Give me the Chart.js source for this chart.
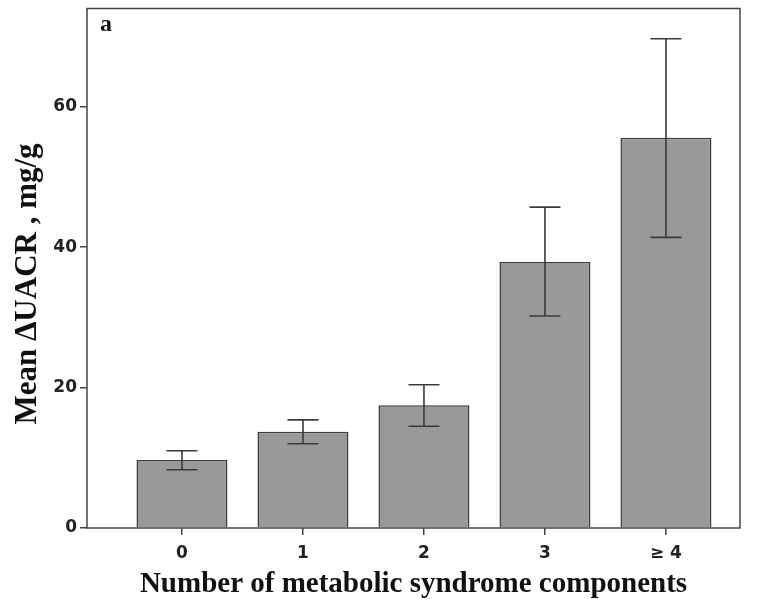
<!DOCTYPE html>
<html>
<head>
<meta charset="utf-8">
<script src="https://cdn.jsdelivr.net/npm/chart.js@4"></script>
<style>
html,body{margin:0;padding:0;background:#fff;}
#wrap{width:765px;height:608px;position:relative;}
</style>
</head>
<body>
<div id="wrap"><canvas id="c" width="765" height="608"></canvas></div>
<script>
const categories = ["0", "1", "2", "3", "\u2265 4"];
const meanValues = [9.7, 13.7, 17.5, 37.9, 55.6];
const errLow = [8.3, 12.0, 14.5, 30.2, 41.4];
const errHigh = [11.0, 15.4, 20.4, 45.7, 69.7];
const yTicks = [0, 20, 40, 60];
const yTitle = 'Mean \u0394UACR , mg/g';

const errorBarPlugin = {
  id: 'errorBars',
  afterDatasetsDraw(chart) {
    const ctx = chart.ctx, xs = chart.scales.x, ys = chart.scales.y;
    ctx.save();
    ctx.strokeStyle = '#3a3a3a';
    ctx.lineWidth = 1.6;
    const half = 15.5;
    for (let i = 0; i < categories.length; i++) {
      const px = xs.getPixelForValue(i);
      const lo = ys.getPixelForValue(errLow[i]);
      const hi = ys.getPixelForValue(errHigh[i]);
      ctx.beginPath();
      ctx.moveTo(px, lo); ctx.lineTo(px, hi);
      ctx.moveTo(px - half, lo); ctx.lineTo(px + half, lo);
      ctx.moveTo(px - half, hi); ctx.lineTo(px + half, hi);
      ctx.stroke();
    }
    ctx.restore();
  }
};

const framePlugin = {
  id: 'frame',
  afterDraw(chart) {
    const ctx = chart.ctx, a = chart.chartArea;
    ctx.save();
    ctx.strokeStyle = '#444';
    ctx.lineWidth = 1.5;
    ctx.strokeRect(a.left, a.top, a.right - a.left, a.bottom - a.top);
    ctx.fillStyle = '#111';
    ctx.font = 'bold 24px "Liberation Serif"';
    ctx.textBaseline = 'alphabetic';
    ctx.fillText('a', a.left + 13, a.top + 22);
    // y axis title
    ctx.translate(28, 284);
    ctx.rotate(-Math.PI / 2);
    ctx.textAlign = 'center';
    ctx.textBaseline = 'middle';
    ctx.font = 'bold 31px "Liberation Serif"';
    ctx.fillText(yTitle, 0, 0);
    ctx.restore();
  }
};

new Chart(document.getElementById('c'), {
  type: 'bar',
  data: {
    datasets: [{
      data: meanValues.map((v, i) => ({x: i, y: v})),
      backgroundColor: '#999999',
      borderColor: '#3c3c3c',
      borderWidth: 1.5,
      barPercentage: 0.752,
      categoryPercentage: 1
    }]
  },
  options: {
    responsive: false,
    animation: false,
    layout: {padding: {left: 0, top: 8.5, right: 25, bottom: 0}},
    plugins: {legend: {display: false}, tooltip: {enabled: false}},
    scales: {
      x: {
        type: 'linear',
        offset: false,
        min: -0.785,
        max: 4.612,
        afterFit(s) { s.height = 80; s.paddingLeft = 0; s.paddingRight = 0; },
        afterBuildTicks(s) { s.ticks = categories.map((c, i) => ({value: i})); },
        ticks: {
          callback: (v) => categories[v],
          color: '#222',
          font: {family: 'DejaVu Sans', weight: 'bold', size: 17},
          padding: 8,
          maxRotation: 0
        },
        grid: {drawOnChartArea: false, offset: false, tickLength: 7, color: '#444', lineWidth: 1.5},
        border: {display: false},
        title: {
          display: true,
          text: 'Number of metabolic syndrome components',
          color: '#111',
          font: {family: 'Liberation Serif', weight: 'bold', size: 29},
          padding: {top: 0, bottom: 6}
        }
      },
      y: {
        min: 0,
        max: 74,
        afterFit(s) { s.width = 87; s.paddingTop = 0; s.paddingBottom = 0; },
        afterBuildTicks(s) { s.ticks = yTicks.map(v => ({value: v})); },
        ticks: {
          color: '#222',
          font: {family: 'DejaVu Sans', weight: 'bold', size: 17},
          padding: 3
        },
        grid: {drawOnChartArea: false, tickLength: 7, color: '#444', lineWidth: 1.5},
        border: {display: false},
        title: {display: false}
      }
    }
  },
  plugins: [errorBarPlugin, framePlugin]
});
</script>
</body>
</html>
